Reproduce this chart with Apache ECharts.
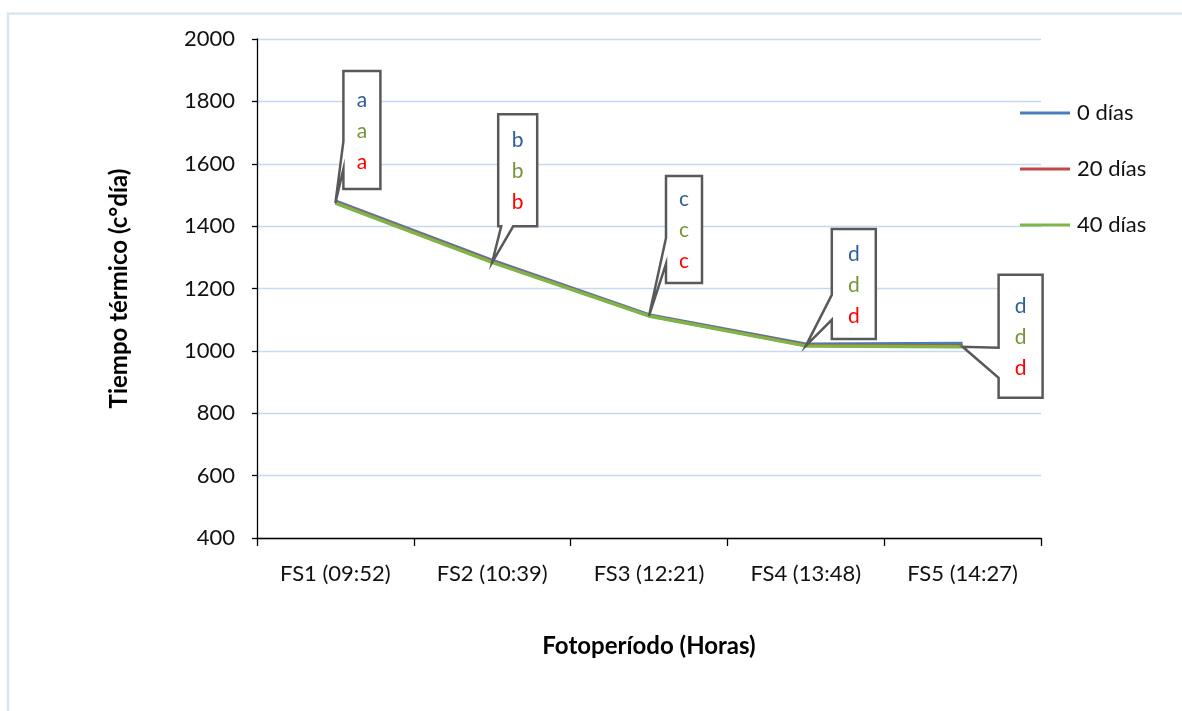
<!DOCTYPE html>
<html>
<head>
<meta charset="utf-8">
<script src="https://cdn.jsdelivr.net/npm/echarts@6/dist/echarts.min.js"></script>
<style>
  html, body { margin: 0; padding: 0; background: #fff; }
  #chart { width: 1182px; height: 711px; }
</style>
</head>
<body>
<div id="chart"></div>
<script>
// Photoperiod stages (x axis)
const categories = ['FS1 (09:52)', 'FS2 (10:39)', 'FS3 (12:21)', 'FS4 (13:48)', 'FS5 (14:27)'];
// Thermal time (degree-days) per storage period
const dias0  = [1480, 1290, 1115, 1021, 1024];
const dias20 = [1476, 1286, 1113, 1018, 1016];
const dias40 = [1474, 1284, 1112, 1016, 1013];
const seriesNames = ['0 días', '20 días', '40 días'];
// Significance letters shown in each callout (one per series, same for all three)
const groupLetters = ['a', 'b', 'c', 'd', 'd'];
// Y axis ticks
const yMin = 400, yMax = 2000, yStep = 200;

const lineColors = ['#4A7EBB', '#BE4B48', '#7DB548'];
const letterColors = ['#2F5D98', '#77933C', '#FF0000'];
const FONT = 'Lato, "Noto Sans", sans-serif';

// Callout box geometry relative to the pointer tip (pixels)
const calloutLayout = [
  { dx: 8,  dy: -132, w: 37, h: 118, side: 'left',   a: -62, b: -34 },
  { dx: 6,  dy: -148, w: 39, h: 112, side: 'bottom', a: 9,   b: 21 },
  { dx: 17, dy: -140, w: 36, h: 107, side: 'left',   a: -78, b: -52 },
  { dx: 26, dy: -117, w: 44, h: 110, side: 'left',   a: -51, b: -26 },
  { dx: 36, dy: -72,  w: 44, h: 123, side: 'left',   a: 1,   b: 31 }
];

function renderCallout(params, api) {
  const i = api.value(0);
  const tip = api.coord([i, api.value(1)]);
  const lay = calloutLayout[i];
  const L = tip[0] + lay.dx, T = tip[1] + lay.dy, R = L + lay.w, B = T + lay.h;
  let pts;
  if (lay.side === 'left') {
    pts = [[L, T], [R, T], [R, B], [L, B], [L, tip[1] + lay.b], tip, [L, tip[1] + lay.a]];
  } else {
    pts = [[L, T], [R, T], [R, B], [tip[0] + lay.b, B], tip, [tip[0] + lay.a, B], [L, B]];
  }
  const cx = (L + R) / 2, cy = (T + B) / 2;
  const offs = [-30, 1, 32];
  const children = [{
    type: 'polygon',
    shape: { points: pts },
    style: { fill: '#fff', stroke: '#595959', lineWidth: 2.5, lineJoin: 'miter' }
  }];
  for (let k = 0; k < 3; k++) {
    children.push({
      type: 'text',
      style: {
        x: cx, y: cy + offs[k], text: groupLetters[i],
        fill: letterColors[k], font: '21px ' + FONT,
        align: 'center', verticalAlign: 'middle'
      }
    });
  }
  return { type: 'group', children: children };
}

const chart = echarts.init(document.getElementById('chart'), null, { renderer: 'canvas' });

const lineSeries = [dias0, dias20, dias40].map((vals, k) => ({
  name: seriesNames[k],
  type: 'line',
  data: vals,
  symbol: 'none',
  lineStyle: { color: lineColors[k], width: 3.5 },
  itemStyle: { color: lineColors[k] },
  z: 3 + k,
  animation: false
}));

const legendTops = [97, 153, 209];
const legends = seriesNames.map((n, k) => ({
  data: [n],
  left: 1015,
  top: legendTops[k],
  icon: 'rect',
  itemWidth: 50,
  itemHeight: 3,
  itemGap: 0,
  textStyle: { fontSize: 22, fontFamily: FONT, color: '#111', padding: [0, 0, 0, 2] },
  selectedMode: false
}));

chart.setOption({
  animation: false,
  backgroundColor: '#fff',
  graphic: [{
    type: 'rect',
    shape: { x: 8, y: 13.5, width: 1200, height: 720 },
    style: { fill: 'none', stroke: '#DCE6F2', lineWidth: 2.5 },
    silent: true
  }],
  legend: legends,
  grid: { left: 257, right: 141, top: 39, bottom: 173, containLabel: false },
  xAxis: {
    type: 'category',
    data: categories,
    boundaryGap: true,
    axisLine: { show: true, lineStyle: { color: '#000', width: 1.3 } },
    axisTick: { show: true, length: 8, lineStyle: { color: '#000', width: 1.3 } },
    axisLabel: { fontSize: 22, fontFamily: FONT, color: '#111', margin: 25 },
    splitLine: { show: false },
    name: 'Fotoperíodo (Horas)',
    nameLocation: 'middle',
    nameGap: 96,
    nameTextStyle: { fontSize: 24, fontWeight: 'bold', fontFamily: FONT, color: '#000' }
  },
  yAxis: {
    type: 'value',
    min: yMin, max: yMax, interval: yStep,
    axisLine: { show: true, lineStyle: { color: '#000', width: 1.3 } },
    axisTick: { show: true, length: 5, lineStyle: { color: '#000', width: 1.3 } },
    axisLabel: { fontSize: 22, fontFamily: FONT, color: '#111', margin: 22, formatter: v => String(v) },
    splitLine: { show: true, lineStyle: { color: '#C6D9F1', width: 1.3 } },
    name: 'Tiempo térmico (c°día)',
    nameLocation: 'middle',
    nameGap: 126,
    nameRotate: 90,
    nameTextStyle: { fontSize: 24, fontWeight: 'bold', fontFamily: FONT, color: '#000' }
  },
  series: lineSeries.concat([{
    type: 'custom',
    name: 'callouts',
    renderItem: renderCallout,
    data: dias40.map((v, i) => [i, v]),
    encode: { x: 0, y: 1 },
    clip: false,
    silent: true,
    z: 10,
    animation: false
  }])
});
</script>
</body>
</html>
